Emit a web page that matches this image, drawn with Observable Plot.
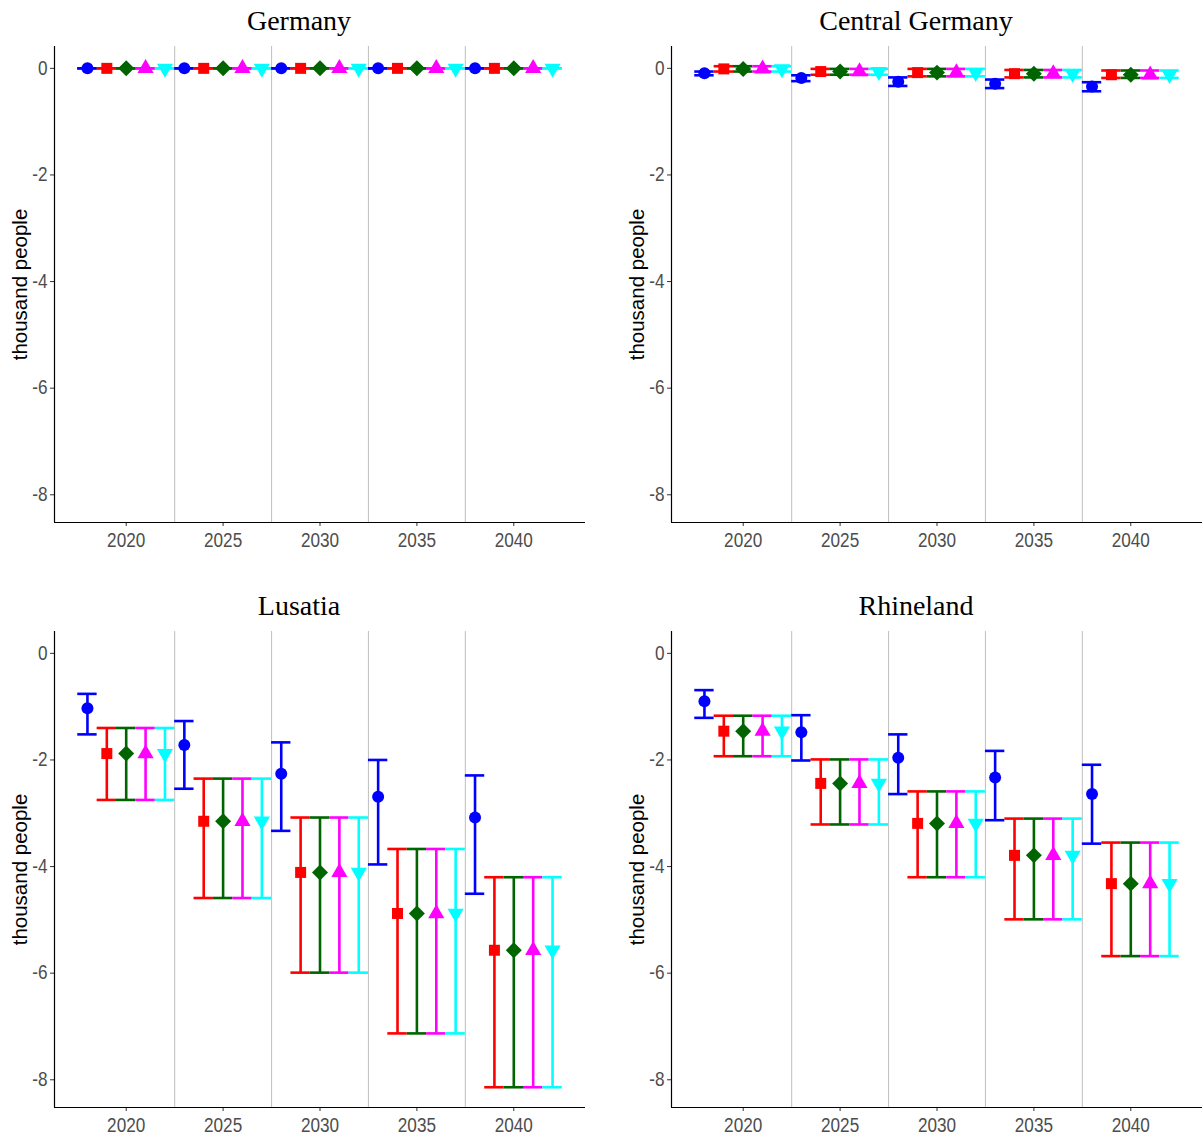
<!DOCTYPE html>
<html>
<head>
<meta charset="utf-8">
<script src="https://cdn.jsdelivr.net/npm/d3@7"></script>
<script src="https://cdn.jsdelivr.net/npm/@observablehq/plot@0.6"></script>
<style>
  html, body { margin: 0; padding: 0; background: #fff; }
  #chart { width: 1203px; height: 1140px; }
</style>
</head>
<body>
<div id="chart"></div>
<script>
// ---- data ----
const years = [2020, 2025, 2030, 2035, 2040];
const regions = ["Germany", "Central Germany", "Lusatia", "Rhineland"];
const seriesNames = ["Series 1", "Series 2", "Series 3", "Series 4", "Series 5"];
const seriesColors = ["#0000ff", "#ff0000", "#006400", "#ff00ff", "#00ffff"];
const yTicks = [-8, -6, -4, -2, 0];

// Series 1 (blue), per region: mean / lower / upper
const baseMean = [
  [0, 0, 0, 0, 0],
  [-0.09, -0.18, -0.25, -0.29, -0.34],
  [-1.03, -1.72, -2.26, -2.69, -3.08],
  [-0.90, -1.48, -1.96, -2.33, -2.64]
];
const baseLow = [
  [0, 0, 0, 0, 0],
  [-0.13, -0.24, -0.33, -0.37, -0.43],
  [-1.52, -2.54, -3.33, -3.96, -4.51],
  [-1.21, -2.01, -2.64, -3.13, -3.57]
];
const baseHigh = [
  [0, 0, 0, 0, 0],
  [-0.06, -0.13, -0.17, -0.21, -0.26],
  [-0.76, -1.27, -1.67, -2.00, -2.29],
  [-0.69, -1.16, -1.52, -1.83, -2.09]
];
// Series 2-5 (red, green, magenta, cyan) share the same values
const scenMean = [
  [0, 0, 0, 0, 0],
  [-0.01, -0.06, -0.08, -0.10, -0.12],
  [-1.88, -3.15, -4.11, -4.88, -5.57],
  [-1.46, -2.44, -3.19, -3.79, -4.32]
];
const scenLow = [
  [0, 0, 0, 0, 0],
  [-0.06, -0.12, -0.15, -0.17, -0.18],
  [-2.75, -4.59, -5.99, -7.13, -8.14],
  [-1.93, -3.21, -4.20, -4.99, -5.68]
];
const scenHigh = [
  [0, 0, 0, 0, 0],
  [0.04, -0.01, -0.01, -0.03, -0.04],
  [-1.40, -2.35, -3.08, -3.67, -4.20],
  [-1.17, -1.99, -2.59, -3.10, -3.55]
];

// ---- build table ----
const rows = [];
regions.forEach((region, r) => {
  seriesNames.forEach((s, k) => {
    years.forEach((year, j) => {
      const isBase = k === 0;
      rows.push({
        region, col: r % 2, row: Math.floor(r / 2), series: s, k,
        x: year + (k - 2),
        mean: (isBase ? baseMean : scenMean)[r][j],
        lo: (isBase ? baseLow : scenLow)[r][j],
        hi: (isBase ? baseHigh : scenHigh)[r][j]
      });
    });
  });
});
const panels = regions.map((region, r) => ({region, col: r % 2, row: Math.floor(r / 2)}));
const separators = years.slice(0, -1).map((y, i) => (y + years[i + 1]) / 2);
const xDomain = [2016.3, 2043.7];
const yDomain = [-8.52, 0.41];

const lineW = 2.6;
const symbolOf = ["circle", "square", "diamond2", "triangle", "triangle"];
const radiusOf = [6, 6.2, 7.2, 6, 6];

const dotMarks = seriesNames.map((s, k) =>
  Plot.dot(rows.filter(d => d.k === k), {
    x: "x", y: "mean", fx: "col", fy: "row",
    fill: seriesColors[k], symbol: symbolOf[k], r: radiusOf[k],
    rotate: k === 4 ? 180 : 0
  })
);

const tickFont = "'Liberation Sans Narrow', 'Arial Narrow', 'Liberation Sans', sans-serif";

const chart = Plot.plot({
  width: 1203,
  height: 1140,
  marginLeft: 54,
  marginRight: 0,
  marginTop: 45,
  marginBottom: 32,
  fx: {axis: null, domain: [0, 1], paddingInner: 0.139, paddingOuter: 0},
  fy: {axis: null, domain: [0, 1], paddingInner: 0.186, paddingOuter: 0},
  x: {domain: xDomain, label: null},
  y: {domain: yDomain, label: null},
  style: {fontFamily: tickFont, background: "#fff"},
  marks: [
    Plot.ruleX(separators, {stroke: "#c4c4c4", strokeWidth: 1.1}),
    Plot.axisY({
      ticks: yTicks, tickFormat: d => String(d), tickSize: 4, tickPadding: 3,
      facetAnchor: null, label: null, fontSize: 19.5, fill: "#4d4d4d", stroke: "#333"
    }),
    Plot.axisX({
      ticks: years, tickFormat: d => String(d), tickSize: 4, tickPadding: 7,
      facetAnchor: null, label: null, fontSize: 19.5, fill: "#4d4d4d", stroke: "#333"
    }),
    Plot.ruleX([xDomain[0]], {stroke: "#000", strokeWidth: 1.2}),
    Plot.ruleY([yDomain[0]], {stroke: "#000", strokeWidth: 1.2}),
    Plot.text(["thousand people"], {
      frameAnchor: "left", textAnchor: "middle", rotate: -90, dx: -34, fontSize: 20.5,
      fontFamily: "'Liberation Sans', Arial, sans-serif", fill: "#000"
    }),
    Plot.text(panels, {
      text: "region", fx: "col", fy: "row", frameAnchor: "top", dy: -25, dx: -21,
      lineAnchor: "middle", fontSize: 28,
      fontFamily: "'Liberation Serif', 'DejaVu Serif', serif", fill: "#000"
    }),
    // error bars
    Plot.ruleX(rows, {x: "x", y1: "lo", y2: "hi", fx: "col", fy: "row",
      stroke: d => seriesColors[d.k], strokeWidth: lineW}),
    Plot.ruleY(rows, {y: "lo", x1: d => d.x - 0.5, x2: d => d.x + 0.5, fx: "col", fy: "row",
      stroke: d => seriesColors[d.k], strokeWidth: lineW}),
    Plot.ruleY(rows, {y: "hi", x1: d => d.x - 0.5, x2: d => d.x + 0.5, fx: "col", fy: "row",
      stroke: d => seriesColors[d.k], strokeWidth: lineW}),
    ...dotMarks
  ]
});
// condense tick labels horizontally (narrow sans look)
chart.querySelectorAll('g[aria-label="x-axis tick label"] text, g[aria-label="y-axis tick label"] text')
  .forEach(t => {
    const tr = t.getAttribute("transform");
    if (tr) t.setAttribute("transform", tr + " scale(0.88,1)");
  });
document.getElementById("chart").appendChild(chart);
</script>
</body>
</html>
